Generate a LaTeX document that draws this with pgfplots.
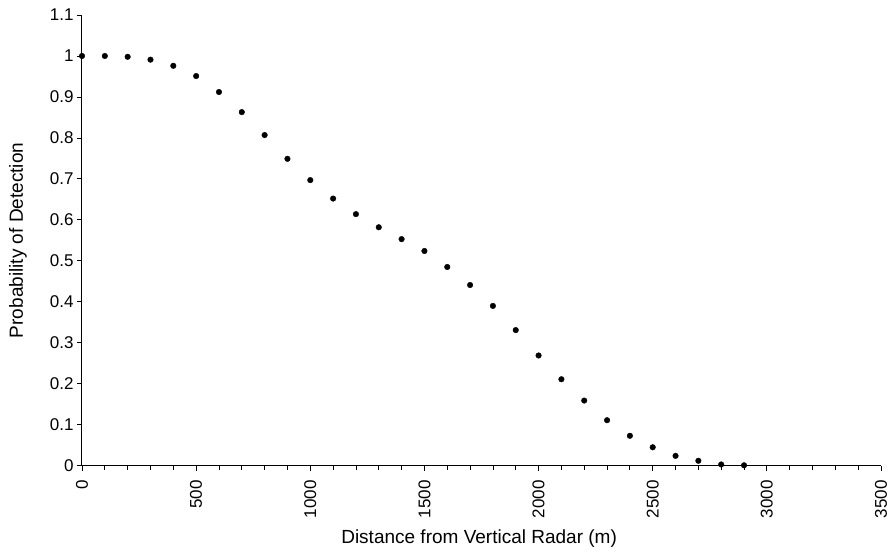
\documentclass[border=0pt]{standalone}
\usepackage{fontspec}
\setmainfont{Liberation Sans}
\usepackage{pgfplots}
\pgfplotsset{compat=1.18}

\pgfplotsset{
  every axis/.append style={font=\fontsize{17bp}{20bp}\selectfont},
}

\begin{document}
\begin{tikzpicture}[x=1bp,y=1bp]
\begin{axis}[
  scale only axis,
  width=799bp, height=450.7bp,
  xmin=0, xmax=3500, ymin=0, ymax=1.1,
  axis lines*=left,
  axis line style={line width=1bp},
  xtick distance=500, ytick distance=0.1,
  minor x tick num=4,
  tick align=outside,
  major tick length=5bp, minor tick length=4bp,
  tick style={black, line width=0.8bp},
  x tick label style={rotate=90, anchor=east, xshift=-6bp},
  xticklabel style={/pgf/number format/.cd, set thousands separator={}, fixed},
  yticklabel style={/pgf/number format/.cd, fixed, precision=1},
  /pgf/number format/assume math mode=true,
  xlabel={Distance from Vertical Radar (m)},
  ylabel={Probability of Detection},
  xlabel style={font=\fontsize{19bp}{22bp}\selectfont,
    at={(axis description cs:0.497,-0.162)}, anchor=center},
  ylabel style={font=\fontsize{19bp}{22bp}\selectfont,
    at={(axis description cs:-0.08,0.5)}, anchor=center},
  clip=false,
]
  \addplot[only marks, mark=*, mark size=2.8bp, black] coordinates {
    (0,1.000) (100,1.000) (200,0.998) (300,0.991) (400,0.976)
    (500,0.951) (600,0.912) (700,0.863) (800,0.807) (900,0.749)
    (1000,0.697) (1100,0.652) (1200,0.614) (1300,0.582) (1400,0.553)
    (1500,0.524) (1600,0.485) (1700,0.441) (1800,0.390) (1900,0.331)
    (2000,0.269) (2100,0.211) (2200,0.159) (2300,0.111) (2400,0.073)
    (2500,0.045) (2600,0.024) (2700,0.012) (2800,0.003) (2900,0.001)
  };
  \coordinate (bl) at (rel axis cs:0,0);
\end{axis}
\pgfresetboundingbox
\path (bl) ++(-82bp,-89.3bp) rectangle ++(894bp,555bp);
\end{tikzpicture}
\end{document}
